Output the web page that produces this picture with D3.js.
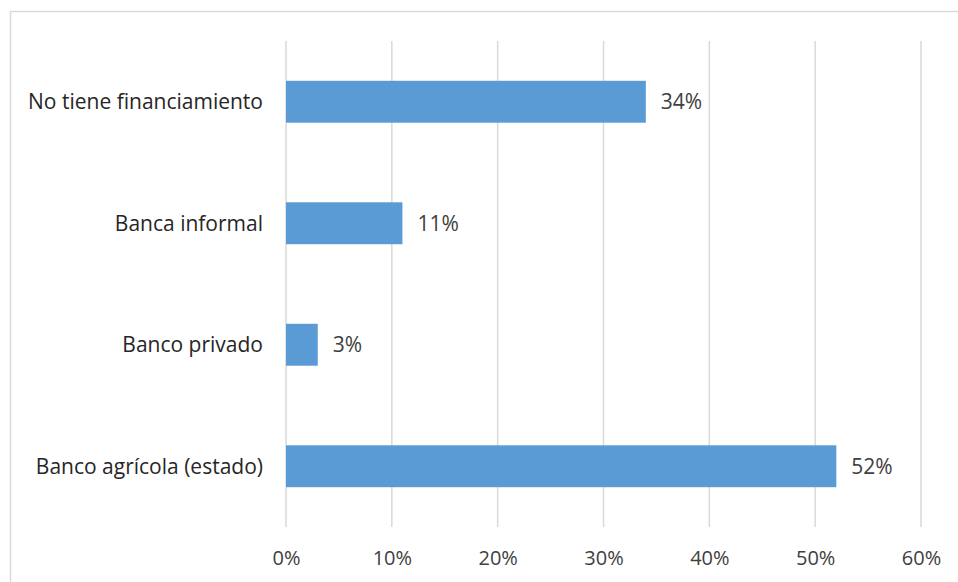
<!DOCTYPE html>
<html><head><meta charset="utf-8">
<script src="https://cdn.jsdelivr.net/npm/d3@7"></script>
<style>body{margin:0;background:#fff}svg{display:block}</style>
</head><body><svg id="c" width="958" height="582"></svg>
<script>
const categories = ["No tiene financiamiento", "Banca informal", "Banco privado", "Banco agrícola (estado)"];
const values = [0.34, 0.11, 0.03, 0.52];
const valueLabels = ["34%", "11%", "3%", "52%"];
const ticks = [0, 0.1, 0.2, 0.3, 0.4, 0.5, 0.6];

const svg = d3.select("#c");
const font = "'Open Sans', 'Liberation Sans', sans-serif";
svg.append("rect").attr("x", 10.5).attr("y", 11.5).attr("width", 960).attr("height", 600)
  .attr("fill", "#fff").attr("stroke", "#d9d9d9").attr("stroke-width", 1.5);

const x = d3.scaleLinear().domain([0, 0.6]).range([286, 921]);
const y = d3.scaleBand().domain(categories).range([41, 527]).paddingInner(0.655).paddingOuter(0.3275);

const g = svg.append("g");
g.selectAll("line.grid").data(ticks).join("line").attr("class", "grid")
  .attr("x1", d => x(d)).attr("x2", d => x(d)).attr("y1", 41).attr("y2", 527)
  .attr("stroke", "#d9d9d9").attr("stroke-width", 1.5);

g.selectAll("rect.bar").data(categories).join("rect").attr("class", "bar")
  .attr("x", x(0)).attr("y", d => y(d)).attr("height", y.bandwidth())
  .attr("width", (d, i) => x(values[i]) - x(0)).attr("fill", "#5b9bd5");

g.selectAll("text.val").data(categories).join("text").attr("class", "val")
  .attr("x", (d, i) => x(values[i]) + 15).attr("y", d => y(d) + y.bandwidth() / 2)
  .attr("dy", "0.35em").attr("font-family", font).attr("font-size", 21).attr("fill", "#404040")
  .text((d, i) => valueLabels[i]);

g.selectAll("text.cat").data(categories).join("text").attr("class", "cat")
  .attr("x", 263).attr("y", d => y(d) + y.bandwidth() / 2)
  .attr("dy", "0.35em").attr("text-anchor", "end").attr("font-family", font).attr("font-size", 21).attr("fill", "#262626")
  .text(d => d);

const xAxis = d3.axisBottom(x).tickValues(ticks).tickFormat(d3.format(".0%")).tickSize(0).tickPadding(0);
const ax = svg.append("g").attr("transform", "translate(0,558)").call(xAxis);
ax.select(".domain").remove();
ax.selectAll("text").attr("dy", "0.35em").attr("font-family", font).attr("font-size", 20).attr("fill", "#404040");
</script></body></html>
